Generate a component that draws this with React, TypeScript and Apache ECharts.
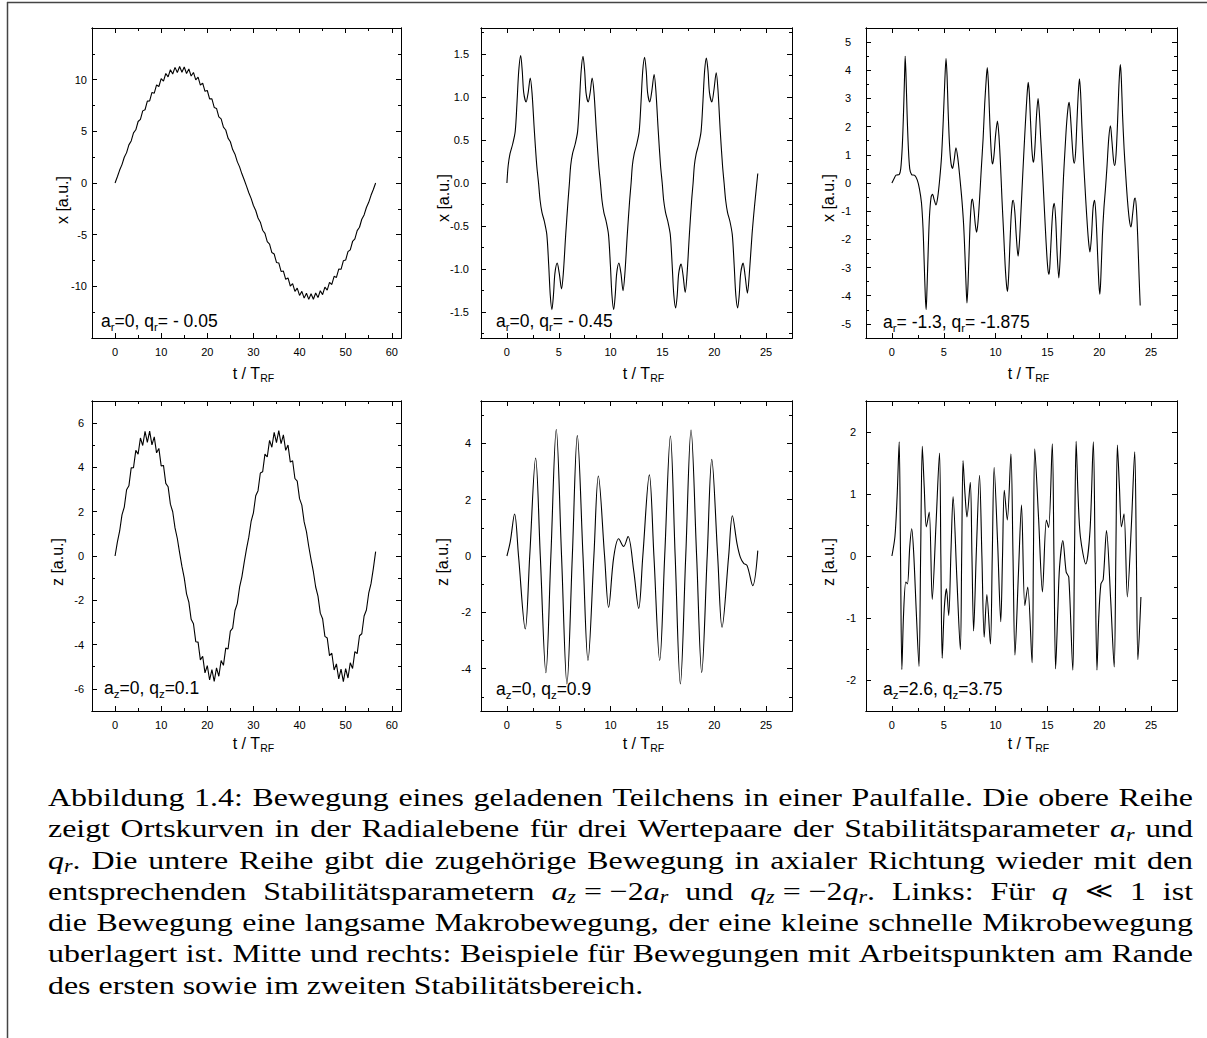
import React, { useEffect, useRef } from "react";
import * as echarts from "echarts";

const W = 1207;
const H = 1038;

// Slow traces, sampled every half RF period from t = 0
const STEP = 0.5;
const xSlow = [
  0, 0.6, 1.25, 1.78, 2.49, 2.94, 3.69, 4.07, 4.85, 5.15,
  5.95, 6.16, 6.98, 7.09, 7.92, 7.94, 8.76, 8.69, 9.49, 9.34,
  10.11, 9.86, 10.6, 10.27, 10.96, 10.55, 11.19, 10.7, 11.27, 10.72,
  11.22, 10.6, 11.03, 10.35, 10.7, 9.98, 10.24, 9.48, 9.66, 8.87,
  8.95, 8.14, 8.14, 7.31, 7.22, 6.4, 6.21, 5.41, 5.13, 4.34,
  3.99, 3.23, 2.79, 2.07, 1.56, 0.89, 0.31, -0.3, -0.94, -1.49,
  -2.18, -2.66, -3.39, -3.79, -4.57, -4.88, -5.68, -5.91, -6.73, -6.87,
  -7.69, -7.74, -8.56, -8.52, -9.32, -9.19, -9.97, -9.74, -10.49, -10.18,
  -10.88, -10.49, -11.14, -10.67, -11.26, -10.72, -11.25, -10.64, -11.09, -10.43,
  -10.8, -10.08, -10.37, -9.62, -9.82, -9.03, -9.14, -8.33, -8.35, -7.53,
  -7.46, -6.64, -6.47, -5.66, -5.41, -4.61, -4.28, -3.51, -3.09, -2.37,
  -1.87, -1.19, -0.63, 0,
];
const zSlow = [
  0, 0.63, 1.13, 1.86, 2.21, 2.99, 3.17, 3.98, 3.99, 4.77,
  4.6, 5.33, 4.99, 5.63, 5.13, 5.64, 5.02, 5.38, 4.66, 4.86,
  4.07, 4.09, 3.28, 3.13, 2.34, 2.0, 1.27, 0.79, 0.14, -0.47,
  -0.99, -1.71, -2.08, -2.86, -3.06, -3.87, -3.89, -4.69, -4.53, -5.28,
  -4.95, -5.6, -5.13, -5.66, -5.05, -5.43, -4.72, -4.94, -4.16, -4.2,
  -3.39, -3.26, -2.46, -2.15, -1.41, -0.94, -0.29, 0.32, 0.85, 1.56,
  1.95, 2.72, 2.95, 3.75, 3.8, 4.6, 4.47, 5.22, 4.91, 5.58,
  5.12, 5.66, 5.07, 5.47, 4.77, 5.01, 4.24, 4.3, 3.5, 3.38,
  2.59, 2.3, 1.54, 1.1, 0.43, -0.16, -0.71, -1.4, -1.81, -2.58,
  -2.83, -3.63, -3.7, -4.5, -4.39, -5.15, -4.87, -5.55, -5.11, -5.67,
  -5.09, -5.51, -4.82, -5.08, -4.32, -4.41, -3.6, -3.51, -2.71, -2.44,
  -1.68, -1.25, -0.57, 0.2,
];

// a_r = 0, q_r = -0.45  ->  [t, x]
const xEdge = [
  [0, 0], [0.12, 0.2], [0.3, 0.34], [0.55, 0.45], [0.8, 0.6], [0.98, 0.95], [1.14, 1.3], [1.33, 1.48],
  [1.48, 1.3], [1.62, 1.05], [1.85, 0.94], [2.05, 1.05], [2.25, 1.22], [2.42, 1.05], [2.65, 0.6], [2.88, 0.2],
  [3.05, 0], [3.2, -0.2], [3.38, -0.34], [3.62, -0.45], [3.85, -0.6], [4.03, -0.95], [4.18, -1.3], [4.34, -1.47],
  [4.49, -1.3], [4.63, -1.05], [4.85, -0.93], [5.05, -1.05], [5.27, -1.23], [5.44, -1.05], [5.67, -0.6], [5.9, -0.2],
  [6.03, 0], [6.15, 0.2], [6.33, 0.34], [6.58, 0.45], [6.82, 0.6], [7.0, 0.95], [7.16, 1.3], [7.34, 1.47],
  [7.5, 1.3], [7.63, 1.05], [7.84, 0.94], [8.03, 1.05], [8.22, 1.22], [8.4, 1.05], [8.63, 0.6], [8.86, 0.2],
  [9.02, 0], [9.17, -0.2], [9.35, -0.34], [9.58, -0.45], [9.8, -0.6], [9.98, -0.95], [10.13, -1.3], [10.3, -1.47],
  [10.45, -1.3], [10.59, -1.05], [10.8, -0.93], [11.0, -1.05], [11.2, -1.25], [11.38, -1.05], [11.61, -0.6], [11.84, -0.2],
  [11.98, 0], [12.1, 0.2], [12.28, 0.34], [12.52, 0.45], [12.76, 0.6], [12.94, 0.95], [13.1, 1.3], [13.28, 1.46],
  [13.44, 1.3], [13.57, 1.05], [13.78, 0.94], [13.98, 1.07], [14.2, 1.26], [14.37, 1.07], [14.6, 0.6], [14.82, 0.2],
  [14.98, 0], [15.12, -0.2], [15.3, -0.34], [15.53, -0.45], [15.76, -0.6], [15.94, -0.95], [16.1, -1.3], [16.28, -1.45],
  [16.43, -1.3], [16.57, -1.05], [16.8, -0.94], [16.99, -1.07], [17.2, -1.27], [17.37, -1.07], [17.6, -0.6], [17.82, -0.2],
  [17.96, 0], [18.08, 0.2], [18.26, 0.34], [18.5, 0.45], [18.73, 0.6], [18.91, 0.95], [19.07, 1.3], [19.24, 1.45],
  [19.4, 1.3], [19.54, 1.05], [19.77, 0.94], [19.97, 1.08], [20.19, 1.28], [20.36, 1.08], [20.58, 0.6], [20.8, 0.2],
  [20.95, 0], [21.1, -0.2], [21.28, -0.34], [21.52, -0.45], [21.74, -0.6], [21.92, -0.95], [22.08, -1.3], [22.26, -1.45],
  [22.41, -1.3], [22.55, -1.05], [22.78, -0.93], [22.98, -1.08], [23.2, -1.28], [23.37, -1.08], [23.65, -0.59], [23.9, -0.25],
  [24.2, 0.11],
];

// a_r = -1.3, q_r = -1.875  ->  [t, x]
const xSecond = [
  [0, 0], [0.2, 0.15], [0.4, 0.28], [0.7, 0.3], [0.85, 0.5], [1.0, 1.3], [1.12, 2.5], [1.22, 3.8], [1.28, 4.5],
  [1.36, 3.8], [1.46, 2.5], [1.58, 1.3], [1.72, 0.5], [1.9, 0.3], [2.2, 0.27], [2.45, 0.1], [2.65, -0.2], [2.85, -0.7],
  [3.0, -1.6], [3.12, -2.9], [3.22, -4.0], [3.3, -4.5], [3.38, -3.8], [3.5, -2.4], [3.62, -1.2], [3.78, -0.5],
  [3.92, -0.4], [4.08, -0.6], [4.25, -0.78], [4.42, -0.5], [4.6, 0.1], [4.78, 0.9], [4.95, 2.2], [5.1, 3.6],
  [5.22, 4.42], [5.32, 3.8], [5.42, 2.6], [5.55, 1.4], [5.7, 0.7], [5.85, 0.52], [6.0, 0.8], [6.18, 1.25],
  [6.35, 0.9], [6.55, 0.2], [6.75, -0.6], [6.92, -1.5], [7.05, -2.6], [7.15, -3.6], [7.24, -4.26], [7.34, -3.6],
  [7.45, -2.4], [7.56, -1.3], [7.68, -0.65], [7.76, -0.57], [7.9, -0.9], [8.05, -1.5], [8.17, -1.75], [8.3, -1.4],
  [8.45, -0.6], [8.62, 0.5], [8.8, 1.6], [8.95, 2.8], [9.1, 3.7], [9.2, 4.1], [9.3, 3.6], [9.4, 2.6], [9.52, 1.5],
  [9.64, 0.8], [9.72, 0.68], [9.85, 1.0], [10.0, 1.7], [10.18, 2.2], [10.32, 1.7], [10.48, 0.6], [10.62, -0.6],
  [10.78, -1.8], [10.92, -2.9], [11.05, -3.6], [11.15, -3.85], [11.26, -3.3], [11.38, -2.2], [11.5, -1.2],
  [11.62, -0.68], [11.7, -0.61], [11.85, -1.0], [12.0, -1.9], [12.17, -2.6], [12.3, -2.1], [12.45, -1.0],
  [12.62, 0.3], [12.8, 1.6], [12.95, 2.6], [13.07, 3.3], [13.15, 3.57], [13.25, 3.2], [13.37, 2.2], [13.5, 1.2],
  [13.6, 0.8], [13.67, 0.74], [13.8, 1.3], [13.95, 2.4], [14.1, 3.0], [14.22, 2.5], [14.35, 1.6], [14.5, 0.6],
  [14.65, -0.5], [14.8, -1.6], [14.95, -2.6], [15.06, -3.1], [15.16, -3.24], [15.27, -2.7], [15.4, -1.7],
  [15.53, -0.95], [15.66, -0.72], [15.8, -1.3], [15.95, -2.6], [16.1, -3.37], [16.25, -2.5], [16.4, -1.1],
  [16.55, 0.2], [16.7, 1.2], [16.85, 2.1], [17.0, 2.7], [17.1, 2.86], [17.22, 2.4], [17.37, 1.5], [17.5, 0.85],
  [17.6, 0.7], [17.72, 1.1], [17.85, 2.2], [17.98, 3.2], [18.09, 3.7], [18.2, 3.2], [18.33, 2.0], [18.47, 0.9],
  [18.62, -0.1], [18.78, -1.1], [18.95, -2.0], [19.1, -2.45], [19.25, -1.9], [19.4, -0.9], [19.55, -0.61],
  [19.7, -1.3], [19.85, -2.6], [19.97, -3.6], [20.06, -3.95], [20.16, -3.3], [20.3, -1.9], [20.45, -0.9],
  [20.6, -0.2], [20.75, 0.6], [20.92, 1.6], [21.08, 2.03], [21.22, 1.5], [21.38, 0.8], [21.5, 0.62], [21.62, 1.0],
  [21.75, 2.0], [21.88, 3.3], [21.97, 3.95], [22.04, 4.2], [22.13, 3.7], [22.25, 2.4], [22.4, 1.2], [22.55, 0.3],
  [22.72, -0.6], [22.9, -1.3], [23.06, -1.56], [23.22, -1.1], [23.38, -0.6], [23.47, -0.53], [23.6, -1.0],
  [23.72, -2.0], [23.85, -3.4], [23.95, -4.35],
];

// a_z = 0, q_z = 0.9  ->  [t, z]
const zEdge = [
  [0, 0], [0.32, 0.5], [0.74, 1.49], [1.12, 0], [1.77, -2.59], [2.2, 0], [2.77, 3.48], [3.22, 0], [3.76, -4.14],
  [4.24, 0], [4.76, 4.49], [5.27, 0], [5.79, -4.54], [6.31, 0], [6.79, 4.27], [7.34, 0], [7.82, -3.71], [8.39, 0],
  [8.82, 2.84], [9.42, 0], [9.81, -1.82], [10.3, -0.05], [10.78, 0.61], [11.26, 0.34], [11.68, 0.69], [12.23, -0.52],
  [12.71, -1.86], [13.11, 0], [13.74, 2.88], [14.18, 0], [14.74, -3.71], [15.22, 0], [15.77, 4.26], [16.23, 0],
  [16.73, -4.54], [17.25, 0], [17.76, 4.47], [18.3, 0], [18.79, -4.13], [19.32, 0], [19.76, 3.43], [20.33, 0],
  [20.75, -2.53], [21.39, 0], [21.75, 1.43], [22.2, 0.43], [22.52, -0.05], [22.84, -0.26], [23.17, -0.34],
  [23.71, -1.05], [24.2, 0.19],
];

// a_z = 2.6, q_z = 3.75  ->  [t, z]
const zSecond = [
  [0, 0], [0.29, 0.31], [0.5, 0.95], [0.7, 1.84], [0.83, 0], [0.96, -1.83], [1.12, -0.95], [1.34, -0.42], [1.5, -0.45],
  [1.72, 0.15], [1.91, 0.44], [2.1, 0.05], [2.35, -0.9], [2.61, -1.78], [2.77, 0], [2.93, 1.77], [3.12, 1.1],
  [3.32, 0.47], [3.6, 0.71], [3.89, -0.7], [4.25, 0.5], [4.59, 1.66], [4.72, 0], [4.85, -1.65], [5.05, -0.85],
  [5.26, -0.53], [5.48, -0.96], [5.7, 0.1], [5.9, 0.96], [6.25, -0.3], [6.6, -1.51], [6.73, 0], [6.86, 1.54],
  [7.05, 1.0], [7.24, 0.63], [7.56, 1.19], [7.72, 0], [7.88, -1.21], [8.15, 0.1], [8.45, 1.3], [8.68, 0],
  [8.9, -1.31], [9.16, -0.62], [9.5, -1.42], [9.68, 0], [9.86, 1.43], [10.2, 0.2], [10.5, -1.06], [10.67, 0],
  [10.84, 1.06], [11.13, 0.58], [11.48, 1.65], [11.68, 0], [11.87, -1.6], [12.2, -0.3], [12.5, 0.82], [12.82, -0.8],
  [13.1, -0.5], [13.52, -1.72], [13.65, 0], [13.78, 1.73], [14.15, 0.6], [14.52, -0.58], [14.9, 0.58], [15.12, 0.46],
  [15.47, 1.81], [15.63, 0], [15.79, -1.82], [16.0, -0.9], [16.17, -0.18], [16.49, 0.25], [16.81, -0.26],
  [17.06, -0.34], [17.45, -1.84], [17.61, 0], [17.77, 1.85], [17.95, 1.0], [18.18, 0.31], [18.7, -0.13],
  [19.11, 0.41], [19.43, 1.84], [19.6, 0], [19.78, -1.84], [19.95, -1.0], [20.16, -0.45], [20.38, -0.38],
  [20.7, 0.41], [21.1, -0.7], [21.44, -1.79], [21.6, 0], [21.75, 1.79], [21.95, 1.1], [22.14, 0.47], [22.39, 0.68],
  [22.71, -0.66], [23.1, 0.5], [23.42, 1.68], [23.58, 0], [23.73, -1.67], [24.02, -0.66],
];

// Tick values
const tMajorLong = [0, 10, 20, 30, 40, 50, 60];
const tMinorLong = [5, 15, 25, 35, 45, 55];
const tMajorShort = [0, 5, 10, 15, 20, 25];
const tMinorShort = [2.5, 7.5, 12.5, 17.5, 22.5];
const yMajor1 = [-10, -5, 0, 5, 10];
const yMinor1 = [-12.5, -7.5, -2.5, 2.5, 7.5, 12.5];
const yMajor2 = [-1.5, -1, -0.5, 0, 0.5, 1, 1.5];
const yMinor2 = [-1.75, -1.25, -0.75, -0.25, 0.25, 0.75, 1.25, 1.75];
const yMajor3 = [-5, -4, -3, -2, -1, 0, 1, 2, 3, 4, 5];
const yMinor3 = [-4.5, -3.5, -2.5, -1.5, -0.5, 0.5, 1.5, 2.5, 3.5, 4.5];
const yMajor4 = [-6, -4, -2, 0, 2, 4, 6];
const yMinor4 = [-5, -3, -1, 1, 3, 5];
const yMajor5 = [-4, -2, 0, 2, 4];
const yMinor5 = [-5, -3, -1, 1, 3, 5];
const yMajor6 = [-2, -1, 0, 1, 2];
const yMinor6 = [-1.5, -0.5, 0.5, 1.5];

// Parameter labels: [text, 0 = normal | 1 = subscript]
type Seg = [string, number];
const note1: Seg[] = [["a", 0], ["r", 1], ["=0, q", 0], ["r", 1], ["= - 0.05", 0]];
const note2: Seg[] = [["a", 0], ["r", 1], ["=0, q", 0], ["r", 1], ["= - 0.45", 0]];
const note3: Seg[] = [["a", 0], ["r", 1], ["= -1.3, q", 0], ["r", 1], ["= -1.875", 0]];
const note4: Seg[] = [["a", 0], ["z", 1], ["=0, q", 0], ["z", 1], ["=0.1", 0]];
const note5: Seg[] = [["a", 0], ["z", 1], ["=0, q", 0], ["z", 1], ["=0.9", 0]];
const note6: Seg[] = [["a", 0], ["z", 1], ["=2.6, q", 0], ["z", 1], ["=3.75", 0]];
const timeTitle: Seg[] = [["t / T", 0], ["RF", 1]];

const captionLines = [
  "Abbildung 1.4: Bewegung eines geladenen Teilchens in einer Paulfalle. Die obere Reihe",
  "zeigt Ortskurven in der Radialebene für drei Wertepaare der Stabilitätsparameter $a_r$ und",
  "$q_r$. Die untere Reihe gibt die zugehörige Bewegung in axialer Richtung wieder mit den",
  "entsprechenden Stabilitätsparametern $a_z~=~−2a_r$ und $q_z~=~−2q_r$. Links: Für $q$ $≪$ 1 ist",
  "die Bewegung eine langsame Makrobewegung, der eine kleine schnelle Mikrobewegung",
  "uberlagert ist. Mitte und rechts: Beispiele für Bewegungen mit Arbeitspunkten am Rande",
  "des ersten sowie im zweiten Stabilitätsbereich.",
];

const SANS = "Liberation Sans";
const SERIF = "Liberation Serif";
const SYMBOL = "DejaVu Serif";

interface Panel {
  box: [number, number, number, number];
  xr: [number, number];
  yr: [number, number];
  xMaj: number[];
  xMin: number[];
  yMaj: number[];
  yMin: number[];
  dec: number;
  labelMargin: number;
  data: number[][];
  smooth: number | boolean;
  yName: string;
  yNamePos: [number, number];
  note: Seg[];
  notePos: [number, number];
  titleY: number;
}

const PANELS: Panel[] = [
  {
    box: [92, 28, 309, 310], xr: [-5, 62], yr: [-15, 15], xMaj: tMajorLong, xMin: tMinorLong,
    yMaj: yMajor1, yMin: yMinor1, dec: 0, labelMargin: 5,
    data: xSlow.map((v, i) => [i * STEP, v]), smooth: false,
    yName: "x [a.u.]", yNamePos: [62, 200], note: note1, notePos: [101, 321], titleY: 373,
  },
  {
    box: [481, 28, 311, 310], xr: [-2.5, 27.5], yr: [-1.8, 1.8], xMaj: tMajorShort, xMin: tMinorShort,
    yMaj: yMajor2, yMin: yMinor2, dec: 1, labelMargin: 12,
    data: xEdge, smooth: 0.3,
    yName: "x [a.u.]", yNamePos: [443, 198], note: note2, notePos: [496, 321], titleY: 373,
  },
  {
    box: [866, 28, 311, 310], xr: [-2.5, 27.5], yr: [-5.5, 5.5], xMaj: tMajorShort, xMin: tMinorShort,
    yMaj: yMajor3, yMin: yMinor3, dec: 0, labelMargin: 15,
    data: xSecond, smooth: 0.3,
    yName: "x [a.u.]", yNamePos: [828, 198], note: note3, notePos: [883, 322], titleY: 373,
  },
  {
    box: [92, 401, 309, 310], xr: [-5, 62], yr: [-7, 7], xMaj: tMajorLong, xMin: tMinorLong,
    yMaj: yMajor4, yMin: yMinor4, dec: 0, labelMargin: 8,
    data: zSlow.map((v, i) => [i * STEP, v]), smooth: false,
    yName: "z [a.u.]", yNamePos: [57, 562], note: note4, notePos: [104, 688], titleY: 743,
  },
  {
    box: [481, 401, 311, 310], xr: [-2.5, 27.5], yr: [-5.5, 5.5], xMaj: tMajorShort, xMin: tMinorShort,
    yMaj: yMajor5, yMin: yMinor5, dec: 0, labelMargin: 10,
    data: zEdge, smooth: 0.35,
    yName: "z [a.u.]", yNamePos: [442, 562], note: note5, notePos: [496, 689], titleY: 743,
  },
  {
    box: [866, 401, 311, 310], xr: [-2.5, 27.5], yr: [-2.5, 2.5], xMaj: tMajorShort, xMin: tMinorShort,
    yMaj: yMajor6, yMin: yMinor6, dec: 0, labelMargin: 10,
    data: zSecond, smooth: 0.3,
    yName: "z [a.u.]", yNamePos: [828, 562], note: note6, notePos: [883, 689], titleY: 743,
  },
];

const fontStr = (style: string, size: number, family: string) => `${style} normal ${size}px "${family}"`;

function makeMeasurer() {
  const c = document.createElement("canvas");
  const ctx = c.getContext("2d") as CanvasRenderingContext2D;
  return (text: string, style: string, size: number, family: string) => {
    ctx.font = fontStr(style, size, family);
    return ctx.measureText(text).width;
  };
}

type Measure = ReturnType<typeof makeMeasurer>;

function textEl(text: string, x: number, y: number, size: number, family: string, style = "normal", extra: any = {}) {
  return {
    type: "text",
    x,
    y,
    silent: true,
    ...extra,
    style: {
      text,
      fontSize: size,
      fontFamily: family,
      fontStyle: style,
      fill: "#000",
      align: "left",
      verticalAlign: "middle",
    },
  };
}

// lays out runs of normal text and subscripts on one line
function segLine(measure: Measure, segs: Seg[], x: number, y: number, size: number, subSize: number, subDy: number) {
  const out: any[] = [];
  let cx = x;
  for (const [t, k] of segs) {
    const s = k ? subSize : size;
    out.push(textEl(t, cx, y + (k ? subDy : 0), s, SANS));
    cx += measure(t, "normal", s, SANS);
  }
  return out;
}

function axisSet(gi: number, range: [number, number], maj: number[], min: number[], dim: "x" | "y", p: Panel) {
  const pos = dim === "x" ? ["bottom", "top"] : ["left", "right"];
  const base = (position: string) => ({
    type: "value",
    gridIndex: gi,
    min: range[0],
    max: range[1],
    position,
    axisLine: { show: true, onZero: false, lineStyle: { color: "#000", width: 1 } },
    splitLine: { show: false },
    minorTick: { show: false },
    minorSplitLine: { show: false },
    axisPointer: { show: false },
  });
  const tick = (vals: number[], len: number) => ({
    show: true,
    inside: true,
    length: len,
    customValues: vals,
    lineStyle: { color: "#000", width: 1 },
  });
  const label = {
    show: true,
    customValues: maj,
    formatter: (v: number) => (dim === "y" ? v.toFixed(p.dec) : String(v)),
    margin: dim === "x" ? 8 : p.labelMargin,
    fontSize: 11,
    fontFamily: SANS,
    color: "#000",
  };
  return [
    { ...base(pos[0]), axisTick: tick(maj, 5), axisLabel: label },
    { ...base(pos[0]), axisTick: tick(min, 3), axisLabel: { show: false } },
    { ...base(pos[1]), axisTick: tick(maj, 5), axisLabel: { show: false } },
    { ...base(pos[1]), axisTick: tick(min, 3), axisLabel: { show: false } },
  ];
}

// caption word runs: 0 roman, 1 math italic, 2 italic subscript, 3 math symbol
function parseWord(word: string): [string, number][] {
  const segs: [string, number][] = [];
  let math = false;
  const push = (t: string, k: number) => {
    const last = segs[segs.length - 1];
    if (last && last[1] === k) last[0] += t;
    else segs.push([t, k]);
  };
  for (let i = 0; i < word.length; i++) {
    const ch = word[i];
    if (ch === "$") { math = !math; continue; }
    if (!math) { push(ch, 0); continue; }
    if (ch === "_") { push(word[i + 1], 2); i++; continue; }
    if (ch === "~") { push(" ", 0); continue; }
    if (ch === "≪") { push(ch, 3); continue; }
    if (/[a-zA-Z]/.test(ch)) push(ch, 1);
    else push(ch, 0);
  }
  return segs;
}

function captionGraphics(measure: Measure) {
  const size = 26;
  const subSize = 18;
  const left = 48;
  const right = 1193;
  const top = 797;
  const gap = 31.3;
  const fam = (k: number) => (k === 3 ? SYMBOL : SERIF);
  const sty = (k: number) => (k === 1 || k === 2 ? "italic" : "normal");
  const sz = (k: number) => (k === 2 ? subSize : k === 3 ? 22 : size);
  const segW = (t: string, k: number) => measure(t, sty(k), sz(k), fam(k));
  const lines = captionLines.map((ln) =>
    ln.split(" ").map((w) => {
      const segs = parseWord(w);
      return { segs, w: segs.reduce((a, [t, k]) => a + segW(t, k), 0) };
    })
  );
  const space = measure(" ", "normal", size, SERIF);
  let sx = 10;
  lines.slice(0, -1).forEach((ws) => {
    const nat = ws.reduce((a, b) => a + b.w, 0) + space * (ws.length - 1);
    sx = Math.min(sx, ((right - left) / nat) * 0.995);
  });
  const out: any[] = [];
  lines.forEach((ws, li) => {
    const last = li === lines.length - 1;
    const total = ws.reduce((a, b) => a + b.w, 0) * sx;
    const g = last ? space * sx : (right - left - total) / (ws.length - 1);
    let x = left;
    const y = top + li * gap;
    ws.forEach((wd) => {
      let cx = x;
      wd.segs.forEach(([t, k]) => {
        out.push(textEl(t, cx, y + (k === 2 ? 6 : 0), sz(k), fam(k), sty(k), { scaleX: sx }));
        cx += segW(t, k) * sx;
      });
      x += wd.w * sx + g;
    });
  });
  return out;
}

function buildOption(measure: Measure) {
  const grid: any[] = [];
  const xAxis: any[] = [];
  const yAxis: any[] = [];
  const series: any[] = [];
  const graphic: any[] = [];

  // page frame
  graphic.push({ type: "line", silent: true, shape: { x1: 7, y1: 2.5, x2: W, y2: 2.5 }, style: { stroke: "#444", lineWidth: 1.5 } });
  graphic.push({ type: "line", silent: true, shape: { x1: 7.5, y1: 2, x2: 7.5, y2: H }, style: { stroke: "#444", lineWidth: 1.5 } });

  PANELS.forEach((p, i) => {
    const [l, t, w, h] = p.box;
    grid.push({ left: l, top: t, width: w, height: h, containLabel: false, outerBoundsMode: "none", show: false });
    xAxis.push(...axisSet(i, p.xr, p.xMaj, p.xMin, "x", p));
    yAxis.push(...axisSet(i, p.yr, p.yMaj, p.yMin, "y", p));
    series.push({
      type: "line",
      xAxisIndex: i * 4,
      yAxisIndex: i * 4,
      data: p.data,
      showSymbol: false,
      symbol: "none",
      smooth: p.smooth,
      clip: true,
      silent: true,
      lineStyle: { color: "#000", width: 1.1 },
    });

    // vertical axis title
    graphic.push({
      type: "text",
      x: p.yNamePos[0],
      y: p.yNamePos[1],
      rotation: Math.PI / 2,
      silent: true,
      style: { text: p.yName, fontSize: 16, fontFamily: SANS, fill: "#000", align: "center", verticalAlign: "middle" },
    });

    // horizontal axis title, "t / T" centred under the box
    const mainW = measure(timeTitle[0][0], "normal", 16, SANS);
    graphic.push(...segLine(measure, timeTitle, l + w / 2 - mainW / 2, p.titleY, 16, 10.5, 5));

    // parameter label inside the box
    graphic.push(...segLine(measure, p.note, p.notePos[0], p.notePos[1], 17.5, 11.5, 5.5));
  });

  graphic.push(...captionGraphics(measure));

  return {
    animation: false,
    backgroundColor: "#fff",
    grid,
    xAxis,
    yAxis,
    series,
    graphic: { elements: graphic },
  };
}

export default function App() {
  const ref = useRef<HTMLDivElement>(null);
  useEffect(() => {
    if (!ref.current) return;
    const chart = echarts.init(ref.current, null, { renderer: "svg" });
    chart.setOption(buildOption(makeMeasurer()));
    return () => chart.dispose();
  }, []);
  return (
    <div
      ref={ref}
      style={{ position: "absolute", left: 0, top: 0, width: W, height: H, background: "#fff" }}
    />
  );
}
